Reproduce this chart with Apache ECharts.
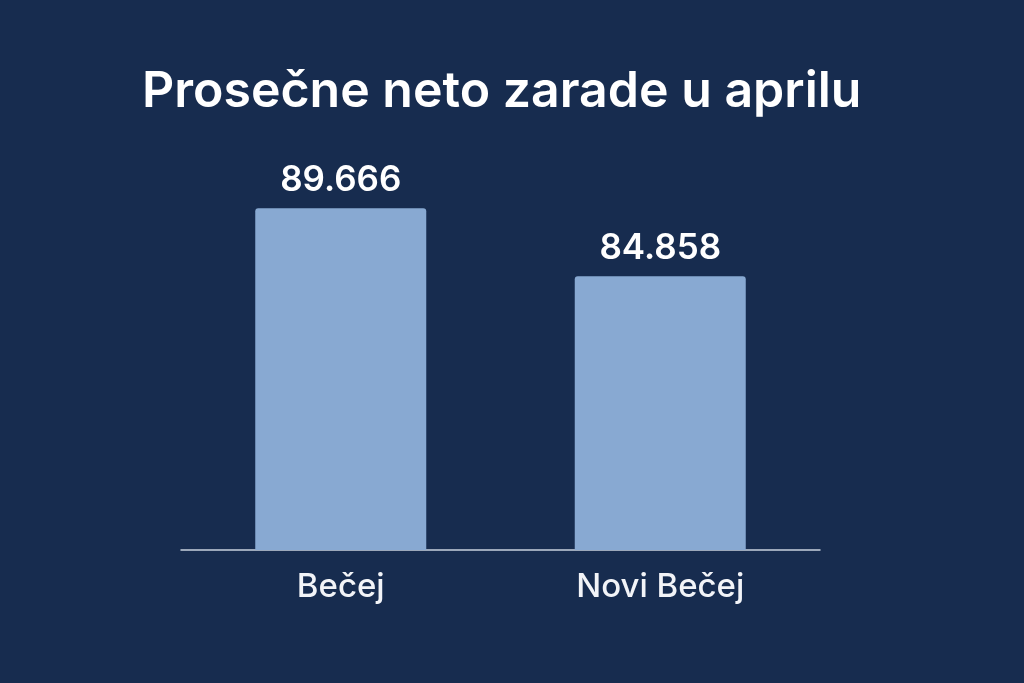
<!DOCTYPE html>
<html>
<head>
<meta charset="utf-8">
<script src="https://cdn.jsdelivr.net/npm/echarts@6/dist/echarts.min.js"></script>
<style>
  html, body { margin: 0; padding: 0; background: #172c4f; }
  #main { width: 1024px; height: 683px; }
</style>
</head>
<body>
<div id="main"></div>
<script>
var cities = ['Bečej', 'Novi Bečej']
var salaries = [89666, 84858]

var myChart = echarts.init(document.getElementById('main'));

var option = {
  backgroundColor: '#172c4f',
  title: {
    text: 'Prosečne neto zarade u aprilu',
    left: 137,
    top: 62,
    textStyle: {
      color: '#ffffff',
      fontFamily: 'Inter',
      fontWeight: 600,
      fontSize: 50
    }
  },
  grid: {
    left: 181,
    right: 204,
    top: 62,
    bottom: 133
  },
  xAxis: {
    type: 'category',
    data: cities,
    axisLine: { lineStyle: { color: '#c9d1de', width: 1.5 } },
    axisTick: { show: false },
    axisLabel: {
      color: '#f2f4f8',
      fontFamily: 'Inter',
      fontWeight: 500,
      fontSize: 33,
      margin: 21
    }
  },
  yAxis: {
    type: 'value',
    min: 65500,
    max: 100000,
    show: false,
    splitLine: { show: false }
  },
  series: [{
    type: 'bar',
    data: salaries,
    barWidth: 171,
    itemStyle: {
      color: '#88a9d2',
      borderRadius: [3, 3, 0, 0]
    },
    label: {
      show: true,
      position: 'top',
      distance: 10,
      color: '#ffffff',
      fontFamily: 'Inter',
      fontWeight: 600,
      fontSize: 35,
      formatter: function (p) {
        return p.value.toLocaleString('de-DE')
      }
    }
  }]
};

myChart.setOption(option);
</script>
</body>
</html>
